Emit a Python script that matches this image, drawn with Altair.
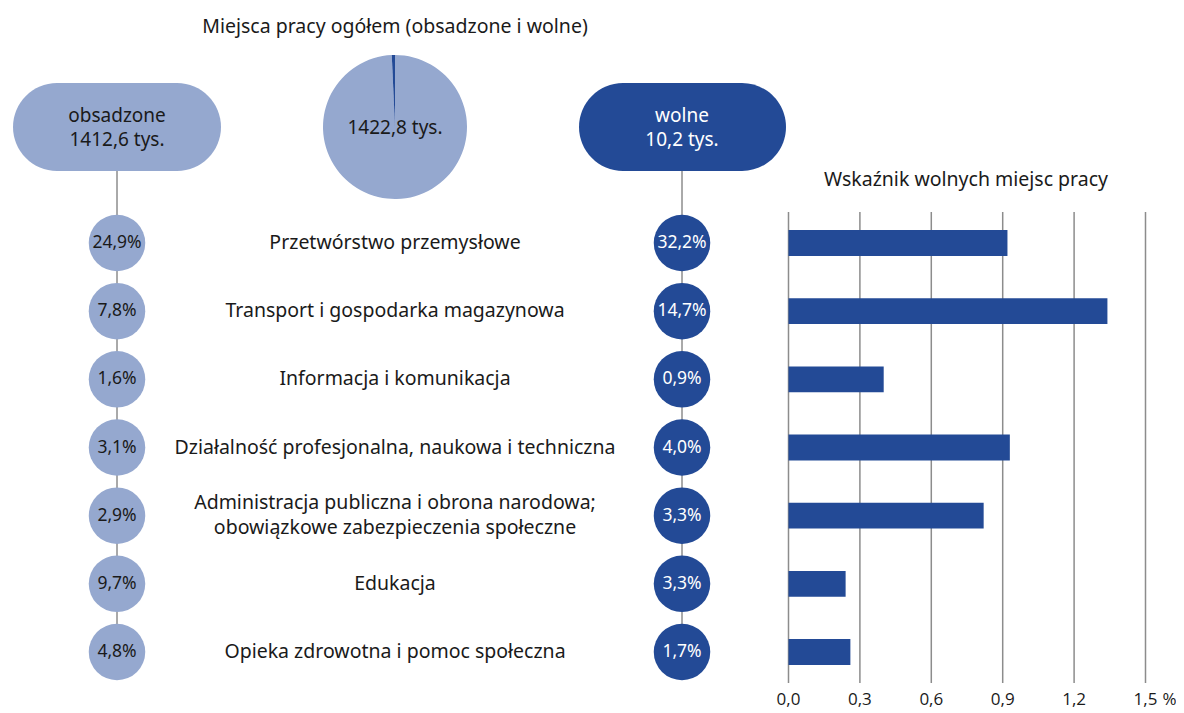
import altair as alt
import pandas as pd

# ---------------- data ----------------
categories = [
    "Przetwórstwo przemysłowe",
    "Transport i gospodarka magazynowa",
    "Informacja i komunikacja",
    "Działalność profesjonalna, naukowa i techniczna",
    "Administracja publiczna i obrona narodowa;\nobowiązkowe zabezpieczenia społeczne",
    "Edukacja",
    "Opieka zdrowotna i pomoc społeczna",
]
obsadzone_share = [24.9, 7.8, 1.6, 3.1, 2.9, 9.7, 4.8]
wolne_share = [32.2, 14.7, 0.9, 4.0, 3.3, 3.3, 1.7]
vacancy_rate = [0.92, 1.34, 0.40, 0.93, 0.82, 0.24, 0.26]

pie_parts = ["obsadzone", "wolne"]
pie_values = [1412.6, 10.2]
pie_total = 1422.8

x_ticks = [0.0, 0.3, 0.6, 0.9, 1.2, 1.5]

title_main = "Miejsca pracy ogółem (obsadzone i wolne)"
title_bars = "Wskaźnik wolnych miejsc pracy"

# ---------------- styles ----------------
FONT = "Noto Sans"
AXFONT = "Open Sans"
LIGHT = "#95A8CF"
DARK = "#234A96"
TXT = "#1a1a1a"
FS = 19
FS_CAT = 19.5


def pl(v, dec=1):
    return f"{v:.{dec}f}".replace(".", ",")


df = pd.DataFrame({
    "kategoria": categories,
    "linie": [len(c.split("\n")) for c in categories],
    "obs_lbl": [pl(v) + "%" for v in obsadzone_share],
    "wol_lbl": [pl(v) + "%" for v in wolne_share],
    "wsk": vacancy_rate,
})
pie_df = pd.DataFrame({"part": pie_parts, "val": pie_values, "ord": [0, 1]})
tick_df = pd.DataFrame({"t": x_ticks, "lbl": [pl(v) for v in x_ticks]})
pct_df = pd.DataFrame({"t": [x_ticks[-1]], "lbl": ["%"]})

yscale = alt.Scale(domain=categories, range=[200.9, 678.1], paddingInner=0.62, paddingOuter=0.31)
Y = alt.Y("kategoria:N", scale=yscale, axis=None, sort=None)
xscale = alt.Scale(domain=[0, 1.5], range=[780.5, 1137.5], nice=False, zero=True)

base = alt.Chart(df)


def label(text, x, y, color=TXT, size=FS, **kw):
    return alt.Chart(pd.DataFrame({"s": [text]})).mark_text(
        fontSize=size, color=color, baseline="middle", align="center", **kw
    ).encode(x=alt.value(x), y=alt.value(y), text="s:N")


# titles
t_main = label(title_main, 387, 19, size=FS_CAT)
t_bars = label(title_bars, 958, 172, size=FS_CAT)

# pie
pie = alt.Chart(pie_df).mark_arc(radius=72).encode(
    theta=alt.Theta("val:Q", stack=True),
    order=alt.Order("ord:Q"),
    color=alt.Color("part:N", scale=alt.Scale(domain=pie_parts, range=[LIGHT, DARK]), legend=None),
    x=alt.value(387),
    y=alt.value(119),
)
pie_txt = label(pl(pie_total) + " tys.", 387, 120)

# pills
pill_l = alt.Chart(pd.DataFrame({"p": ["obsadzone"]})).mark_rect(cornerRadius=44, color=LIGHT).encode(
    x=alt.value(5), x2=alt.value(213), y=alt.value(75), y2=alt.value(163))
pill_r = alt.Chart(pd.DataFrame({"p": ["wolne"]})).mark_rect(cornerRadius=44, color=DARK).encode(
    x=alt.value(571), x2=alt.value(778), y=alt.value(75), y2=alt.value(163))
pill_l_txt = label(f"obsadzone\n{pl(pie_values[0])} tys.", 109, 108, lineBreak="\n", lineHeight=24)
pill_r_txt = label(f"wolne\n{pl(pie_values[1])} tys.", 674, 108, color="white", lineBreak="\n", lineHeight=24)

# connectors
conn_l = alt.Chart(pd.DataFrame({"p": ["obsadzone"]})).mark_rule(color="#555555", strokeWidth=1).encode(
    x=alt.value(109), y=alt.value(163), y2=alt.value(644))
conn_r = alt.Chart(pd.DataFrame({"p": ["wolne"]})).mark_rule(color="#555555", strokeWidth=1).encode(
    x=alt.value(674), y=alt.value(163), y2=alt.value(644))

# circles
CS = 3192
circ_l = base.mark_circle(size=CS, color=LIGHT, opacity=1).encode(x=alt.value(109), y=Y)
circ_r = base.mark_circle(size=CS, color=DARK, opacity=1).encode(x=alt.value(674), y=Y)
circ_l_txt = base.mark_text(fontSize=17.5, color=TXT, baseline="middle", align="center").encode(
    x=alt.value(109), y=Y, text="obs_lbl:N")
circ_r_txt = base.mark_text(fontSize=17.5, color="white", baseline="middle", align="center").encode(
    x=alt.value(674), y=Y, text="wol_lbl:N")

# category labels
cat_txt1 = base.transform_filter("datum.linie == 1").mark_text(
    fontSize=FS_CAT, color=TXT, baseline="middle", align="center").encode(
    x=alt.value(387), y=Y, text="kategoria:N")
cat_txt2 = base.transform_filter("datum.linie == 2").mark_text(
    fontSize=FS_CAT, color=TXT, baseline="middle", align="center",
    lineBreak="\n", lineHeight=25, dy=-13).encode(
    x=alt.value(387), y=Y, text="kategoria:N")

# bar chart
grid = alt.Chart(tick_df).mark_rule(color="#8c8c8c", strokeWidth=1.5).encode(
    x=alt.X("t:Q", scale=xscale, axis=None), y=alt.value(204), y2=alt.value(675))
bars = base.mark_bar(color=DARK).encode(
    x=alt.X("wsk:Q", scale=xscale, axis=None), y=Y)
tick_txt = alt.Chart(tick_df).mark_text(font=AXFONT, fontSize=17, color=TXT, baseline="middle",
                                        align="center").encode(
    x=alt.X("t:Q", scale=xscale, axis=None), y=alt.value(692), text="lbl:N")
pct_txt = alt.Chart(pct_df).mark_text(font=AXFONT, fontSize=17, color=TXT, baseline="middle",
                                      align="left", dx=17).encode(
    x=alt.X("t:Q", scale=xscale, axis=None), y=alt.value(692), text="lbl:N")

chart = alt.layer(
    t_main, pie, pie_txt, pill_l, pill_r, pill_l_txt, pill_r_txt,
    conn_l, conn_r, circ_l, circ_r, circ_l_txt, circ_r_txt, cat_txt1, cat_txt2,
    t_bars, grid, bars, tick_txt, pct_txt,
).resolve_scale(color="independent").properties(
    width=1168, height=705, padding=0, autosize=alt.AutoSizeParams(type="none")
).configure_view(stroke=None).configure_text(font=FONT)

chart.save("out.html", embed_options={"renderer": "svg", "actions": False})
